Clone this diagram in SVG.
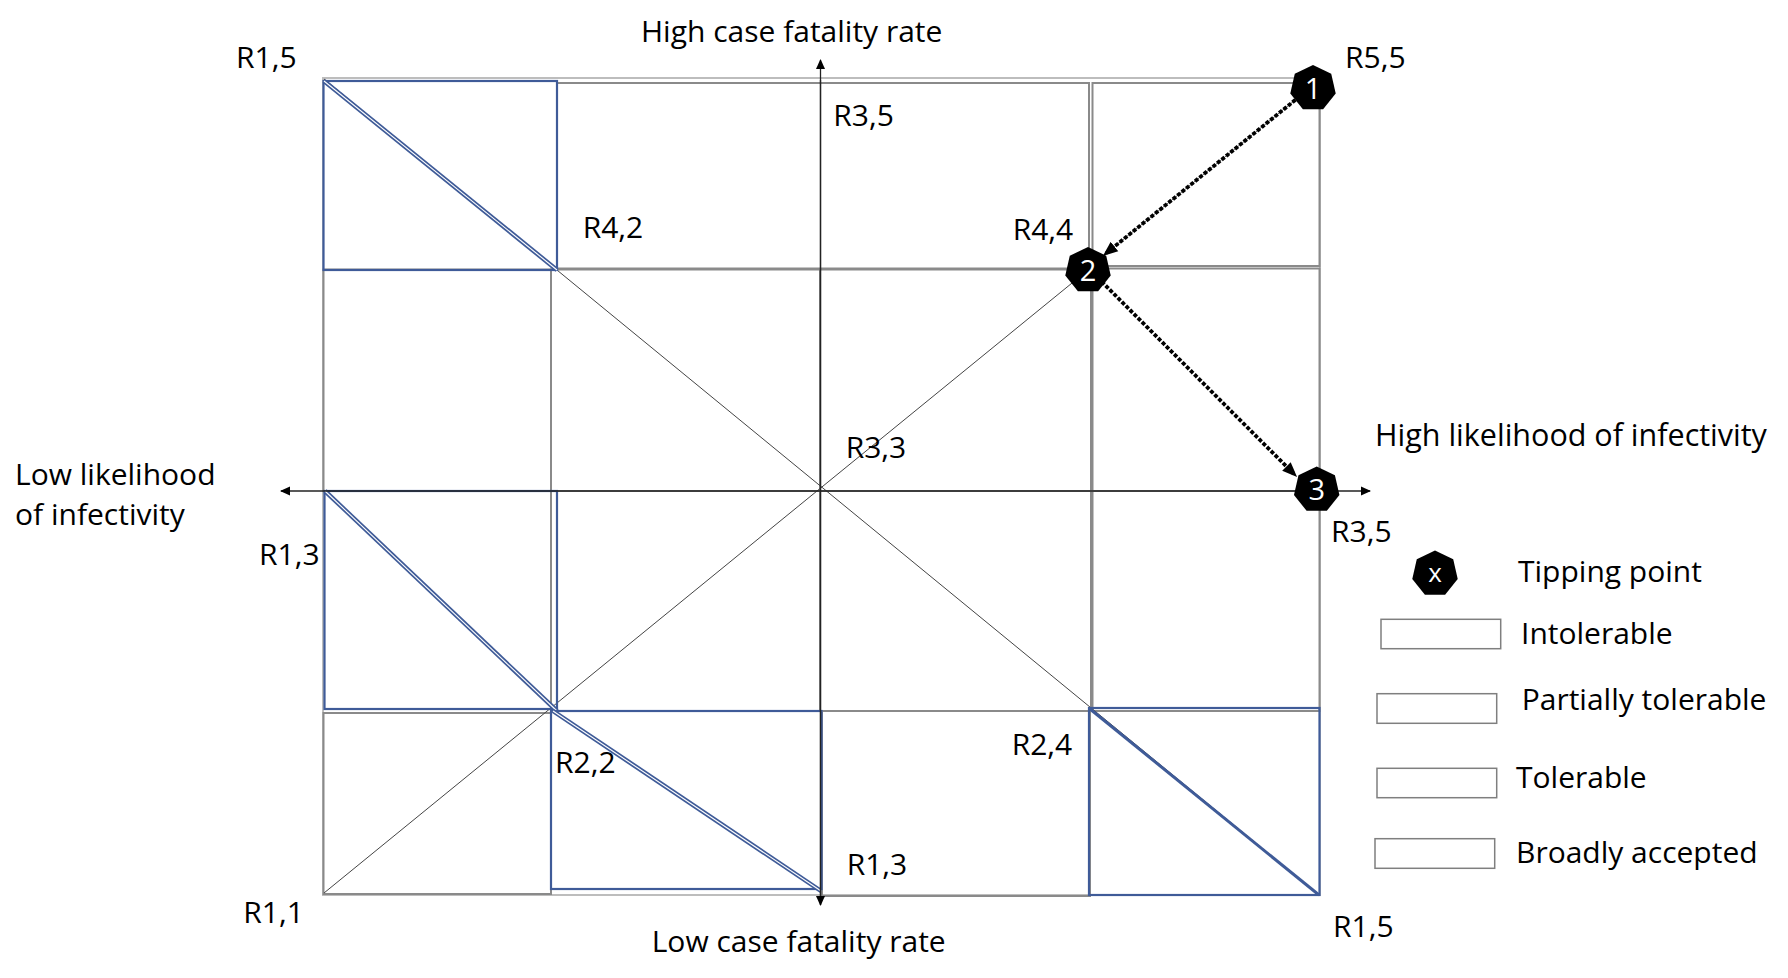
<svg xmlns="http://www.w3.org/2000/svg" xmlns:xlink="http://www.w3.org/1999/xlink" width="1788" height="978" viewBox="0 0 1788 978">
<style>
text{font-family:"Open Sans","Noto Sans","Liberation Sans",sans-serif;font-size:30px;fill:#000}
.cell{fill:none;stroke:#8a8a8a;stroke-width:2}
.frame{fill:none;stroke:#bdbdbd;stroke-width:2}
.blue{fill:none;stroke:#3f5b98;stroke-width:2.2}
.bdiag{stroke:#3f5b98;stroke-width:4.5;fill:none}
.bdiagin{stroke:#ffffff;stroke-width:1.1;fill:none}
.thin{stroke:#444;stroke-width:1;fill:none}
.axis{stroke:#222;stroke-width:1.3;fill:none}
.dot{stroke:#000;stroke-width:3.8;stroke-dasharray:0.1 5.6;stroke-linecap:square;fill:none}
.dotline{stroke:#333;stroke-width:0.8;fill:none}
.num{fill:#fff;font-size:29px;text-anchor:middle}
.leg{fill:#fff;stroke:#7f7f7f;stroke-width:1.5}
</style>
<defs>
<polygon id="hept" points="0,-23.3 18.22,-14.53 22.72,5.18 10.11,20.99 -10.11,20.99 -22.72,5.18 -18.22,-14.53" fill="#000"/>
<marker id="ah" viewBox="0 0 10 10" refX="9" refY="5" markerWidth="10" markerHeight="10" markerUnits="userSpaceOnUse" orient="auto"><path d="M0,0.5 L10,5 L0,9.5 Z" fill="#000"/></marker>
<marker id="ahd" viewBox="0 0 10 10" refX="9" refY="5" markerWidth="15" markerHeight="15" markerUnits="userSpaceOnUse" orient="auto"><path d="M0,1 L10,5 L0,9 Z" fill="#000"/></marker>
</defs>

<g id="grid">
<rect class="frame" x="323" y="78" width="997" height="817"/>
<rect class="cell" x="557" y="83" width="532" height="185.5"/>
<rect class="cell" x="1092.5" y="83" width="227" height="183"/>
<rect class="cell" x="323.5" y="269.5" width="227.5" height="221.5"/>
<rect class="cell" x="551" y="269.5" width="269" height="221.5"/>
<rect class="cell" x="820" y="269.5" width="271" height="221.5"/>
<rect class="cell" x="1092.5" y="268.5" width="227" height="222.5"/>
<rect class="cell" x="551" y="491" width="269" height="220"/>
<rect class="cell" x="820" y="491" width="271" height="220"/>
<rect class="cell" x="1092.5" y="491" width="227" height="220"/>
<rect class="cell" x="323.5" y="713" width="227.5" height="181"/>
<rect class="cell" x="822" y="711" width="268" height="185"/>
</g>

<g id="diagonals">
<line class="thin" x1="324" y1="79" x2="1318" y2="894"/>
<line class="thin" x1="324" y1="893" x2="1088" y2="270"/>
</g>

<g id="blue-boxes">
<rect class="blue" x="323.5" y="81" width="233.5" height="189"/>
<line class="bdiag" x1="324" y1="81" x2="557" y2="270"/>
<line class="bdiagin" x1="324" y1="81" x2="557" y2="270"/>
<rect class="blue" x="324.5" y="491" width="232.5" height="218"/>
<line class="bdiag" x1="325" y1="491" x2="557" y2="711"/>
<line class="bdiagin" x1="325" y1="491" x2="557" y2="711"/>
<rect class="blue" x="551" y="711" width="270.5" height="178"/>
<line class="bdiag" x1="553" y1="711" x2="821" y2="891"/>
<line class="bdiagin" x1="553" y1="711" x2="821" y2="891"/>
<rect class="blue" x="1089" y="708" width="230.5" height="187"/>
<line class="blue" x1="1090" y1="709" x2="1319" y2="895" style="stroke-width:3"/>
</g>

<g id="connectors">
<line class="axis" x1="820.5" y1="905" x2="820.5" y2="60" marker-end="url(#ah)"/>
<line class="axis" x1="820.5" y1="80" x2="820.5" y2="905" marker-end="url(#ah)"/>
<line class="axis" x1="820" y1="491" x2="281" y2="491" marker-end="url(#ah)"/>
<line class="axis" x1="820" y1="491" x2="1370" y2="491" marker-end="url(#ah)"/>
<line class="dotline" x1="1294" y1="101" x2="1104" y2="255"/>
<line class="dot" x1="1294" y1="101" x2="1104" y2="255" marker-end="url(#ahd)"/>
<line class="dot" x1="1103" y1="283" x2="1296" y2="476" marker-end="url(#ahd)"/>
</g>

<g id="node1"><use xlink:href="#hept" x="1313" y="88.3"/><text class="num" x="1313" y="98.5">1</text></g>
<g id="node2"><use xlink:href="#hept" x="1088" y="270.3"/><text class="num" x="1088" y="280.5">2</text></g>
<g id="node3"><use xlink:href="#hept" x="1316.7" y="489.8"/><text class="num" x="1316.7" y="500">3</text></g>

<g id="labels">
<text x="641" y="41.7">High case fatality rate</text>
<text x="236" y="67.7">R1,5</text>
<text x="833.3" y="125.7">R3,5</text>
<text x="1345" y="67.7">R5,5</text>
<text x="582.7" y="238.3">R4,2</text>
<text x="1012.7" y="240">R4,4</text>
<text x="845.7" y="458.3">R3,3</text>
<text x="1375" y="446" style="font-size:30.5px">High likelihood of infectivity</text>
<text x="15" y="485">Low likelihood</text>
<text x="15" y="524.5">of infectivity</text>
<text x="259" y="565">R1,3</text>
<text x="1331" y="541.7">R3,5</text>
<text x="555" y="772.7">R2,2</text>
<text x="1011.7" y="755">R2,4</text>
<text x="846.7" y="875">R1,3</text>
<text x="243.3" y="923.3">R1,1</text>
<text x="651.7" y="951.7">Low case fatality rate</text>
<text x="1333" y="936.7">R1,5</text>
</g>

<g id="legend">
<g id="legend-tipping"><use xlink:href="#hept" x="1435" y="573.7"/><text class="num" x="1435" y="582" style="font-size:26px">x</text><text x="1518" y="581.7">Tipping point</text></g>
<g id="legend-intolerable"><rect class="leg" x="1381" y="619.3" width="119.7" height="29.4"/><text x="1521" y="644">Intolerable</text></g>
<g id="legend-partial"><rect class="leg" x="1377" y="693.7" width="119.7" height="29.6"/><text x="1521.7" y="710">Partially tolerable</text></g>
<g id="legend-tolerable"><rect class="leg" x="1377" y="768.3" width="119.7" height="29.4"/><text x="1516" y="788.3">Tolerable</text></g>
<g id="legend-broadly"><rect class="leg" x="1375" y="838.7" width="119.7" height="29.6"/><text x="1516" y="862.7">Broadly accepted</text></g>
</g>
</svg>
